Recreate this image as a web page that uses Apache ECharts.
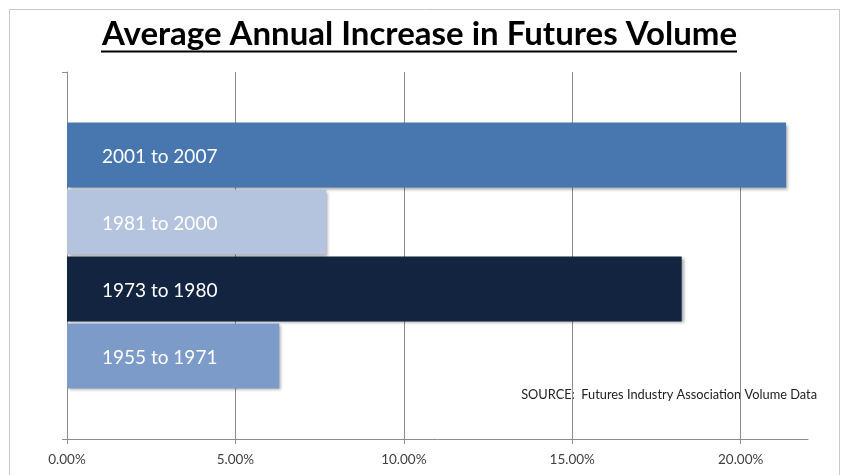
<!DOCTYPE html>
<html>
<head>
<meta charset="utf-8">
<script src="https://cdn.jsdelivr.net/npm/echarts@6/dist/echarts.min.js"></script>
<style>
html,body{margin:0;padding:0;background:#fff;}
#chart{width:841px;height:475px;}
</style>
</head>
<body>
<div id="chart"></div>
<script>
const titleText = 'Average Annual Increase in Futures Volume';
const sourceText = 'SOURCE:  Futures Industry Association Volume Data';
const periods = ['2001 to 2007', '1981 to 2000', '1973 to 1980', '1955 to 1971'];
const increasePct = [21.35, 7.7, 18.25, 6.3];
const barColors = ['#4877AF', '#B5C4DE', '#12243F', '#7C9BC9'];
const tickValues = [0, 5, 10, 15, 20];

const chart = echarts.init(document.getElementById('chart'), null, {renderer: 'canvas'});
const font = 'Lato, "Open Sans", sans-serif';

const series = periods.map((name, i) => ({
  name: name,
  type: 'bar',
  data: [increasePct[i]],
  barWidth: 65,
  barGap: '3%',
  itemStyle: {
    color: barColors[i],
    shadowColor: 'rgba(0,0,0,0.35)',
    shadowBlur: 3,
    shadowOffsetX: 2,
    shadowOffsetY: 2
  },
  label: {
    show: true,
    position: 'insideLeft',
    distance: 35,
    offset: [0, 1.5],
    formatter: name,
    color: '#ffffff',
    fontFamily: font,
    fontSize: 19
  }
}));

chart.setOption({
  animation: false,
  backgroundColor: '#ffffff',
  grid: {left: 67, right: 33, top: 72, bottom: 36, containLabel: false},
  xAxis: {
    type: 'value',
    min: 0,
    max: 22,
    interval: 5,
    axisLine: {show: true, lineStyle: {color: '#8c8c8c', width: 1}},
    axisTick: {show: true, length: 5, lineStyle: {color: '#8c8c8c'}},
    splitLine: {show: true, showMaxLine: false, lineStyle: {color: '#8c8c8c', width: 1}},
    axisLabel: {
      showMaxLabel: false,
      margin: 14,
      color: '#404040',
      fontFamily: font,
      fontSize: 13.5,
      formatter: v => tickValues.indexOf(v) >= 0 ? v.toFixed(2) + '%' : ''
    }
  },
  yAxis: {
    type: 'category',
    inverse: true,
    data: [''],
    axisLine: {show: true, lineStyle: {color: '#8c8c8c', width: 1}},
    axisTick: {show: true, length: 5, lineStyle: {color: '#8c8c8c'}},
    axisLabel: {show: false}
  },
  series: series,
  graphic: [
    {
      type: 'rect',
      shape: {x: 9.5, y: 9.5, width: 830, height: 480},
      style: {fill: 'none', stroke: '#c8c8c8', lineWidth: 1},
      silent: true
    },
    {
      type: 'text',
      x: 419.5,
      y: 34,
      style: {
        text: titleText,
        font: 'bold 33px ' + font,
        fill: '#000000',
        align: 'center',
        verticalAlign: 'middle'
      }
    },
    {
      type: 'rect',
      shape: {x: 101, y: 50.5, width: 636, height: 2},
      style: {fill: '#000000'}
    },
    {
      type: 'text',
      x: 817,
      y: 395,
      style: {
        text: sourceText,
        font: '12.8px ' + font,
        fill: '#222222',
        align: 'right',
        verticalAlign: 'middle'
      }
    }
  ]
});
</script>
</body>
</html>
